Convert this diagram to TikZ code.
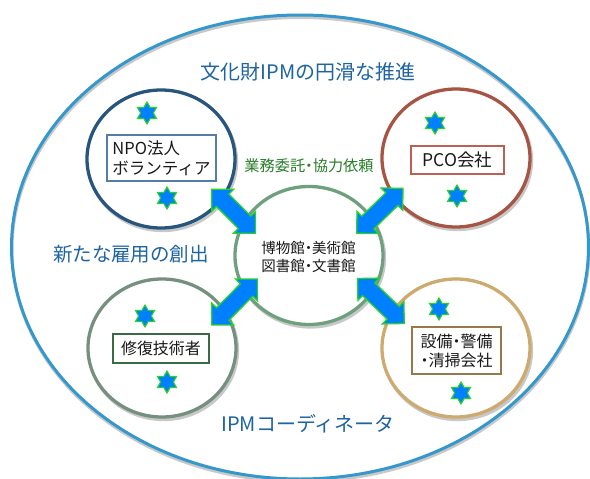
\documentclass[tikz,border=0pt]{standalone}
\usepackage{fontspec}
\setmainfont{Noto Sans CJK JP}
\newfontfamily\palfont{Noto Sans CJK JP}[RawFeature=+palt]
\usetikzlibrary{shapes.geometric,calc}
\definecolor{outerblue}{RGB}{52,152,204}
\definecolor{titleblue}{RGB}{30,100,160}
\definecolor{greentext}{RGB}{40,125,40}
\definecolor{npoc}{RGB}{40,85,125}
\definecolor{pcoc}{RGB}{168,84,68}
\definecolor{hubc}{RGB}{110,160,125}
\definecolor{restc}{RGB}{118,144,128}
\definecolor{facc}{RGB}{205,170,110}
\definecolor{nbox}{RGB}{85,125,170}
\definecolor{pbox}{RGB}{190,95,85}
\definecolor{rbox}{RGB}{60,105,70}
\definecolor{fbox}{RGB}{150,120,75}
\definecolor{starfill}{RGB}{0,128,255}
\definecolor{starline}{RGB}{40,210,40}
\definecolor{shadowgray}{RGB}{200,200,200}
\definecolor{textblack}{RGB}{25,25,25}
\newcommand{\dblarrow}[2]{%
  \draw[blockarrow] (#1)
    -- ($(#1)!15.5pt!(#2)!15.5pt!90:(#2)$)
    -- ($(#1)!15.5pt!(#2)!8.8pt!90:(#2)$)
    -- ($(#2)!15.5pt!(#1)!8.8pt!-90:(#1)$)
    -- ($(#2)!15.5pt!(#1)!15.5pt!-90:(#1)$)
    -- (#2)
    -- ($(#2)!15.5pt!(#1)!15.5pt!90:(#1)$)
    -- ($(#2)!15.5pt!(#1)!8.8pt!90:(#1)$)
    -- ($(#1)!15.5pt!(#2)!8.8pt!-90:(#2)$)
    -- ($(#1)!15.5pt!(#2)!15.5pt!-90:(#2)$)
    -- cycle;}
\begin{document}
\begin{tikzpicture}[x=1pt,y=-1pt,
  ring/.style={ellipse, draw=#1, line width=3.3pt, fill=white,
    minimum width=148pt, minimum height=138pt, inner sep=0pt},
  ringshadow/.style={draw=shadowgray, line width=3.3pt},
  labelbox/.style={draw=#1, line width=1.1pt, fill=white, inner sep=0pt,
    text=textblack},
  hexstar/.style={star, star points=6, star point ratio=1.732,
    minimum size=22pt, inner sep=0pt, fill=starfill, draw=starline,
    line width=1.1pt},
  blockarrow/.style={fill=starfill, draw=starline, line width=1.3pt,
    line join=miter},
  bigtext/.style={text=titleblue, inner sep=0pt,
    font=\fontsize{20}{24}\selectfont}
]
\useasboundingbox (0,0) rectangle (590,479);
\fill[white] (0,0) rectangle (590,479);
% outer frame
\draw[draw=shadowgray, line width=3pt] (300.5,249.5) ellipse [x radius=288.5, y radius=232];
\draw[draw=outerblue, line width=3pt] (300,247) ellipse [x radius=288.5, y radius=232];
% shadows of rings
\foreach \p in {(162.5,161.5),(457.5,160.5),(310.5,258),(163.5,350.5),(457.5,350.5)}
  \draw[ringshadow] \p ellipse [x radius=74, y radius=69];
% rings
\node[ring=npoc] (npo) at (161,159) {};
\node[ring=pcoc] (pco) at (456,158) {};
\node[ring=hubc] (hub) at (309,255.5) {};
\node[ring=restc] (rest) at (162,348) {};
\node[ring=facc] (fac) at (456,348) {};
% arrow end points
\coordinate (nwA) at (211.7,189.3);
\coordinate (nwB) at (255.5,233.3);
\coordinate (neA) at (356.7,233.3);
\coordinate (neB) at (403,188.3);
\coordinate (swA) at (211.8,325);
\coordinate (swB) at (257.5,279);
\coordinate (seA) at (357.5,278.5);
\coordinate (seB) at (404.3,323.5);
\dblarrow{nwA}{nwB}
\dblarrow{neA}{neB}
\dblarrow{swA}{swB}
\dblarrow{seA}{seB}
% stars
\node[hexstar] (s1) at (147,113) {};
\node[hexstar] (s2) at (167,198) {};
\node[hexstar] (s3) at (435,123) {};
\node[hexstar] (s4) at (457,196) {};
\node[hexstar] (s5) at (145,316) {};
\node[hexstar] (s6) at (167,382) {};
\node[hexstar] (s7) at (439,309) {};
\node[hexstar] (s8) at (461,393) {};
% label boxes
\node[labelbox=nbox, minimum width=109pt, minimum height=46pt, align=left,
  font=\fontsize{16.5}{20}\selectfont] (nbx) at (161.5,158) {NPO法人\\ボランティア};
\node[labelbox=pbox, minimum width=93pt, minimum height=28pt,
  font=\fontsize{17.5}{20}\selectfont] (pbx) at (457.5,160) {PCO会社};
\node[labelbox=rbox, minimum width=96pt, minimum height=29pt,
  font=\fontsize{16}{20}\selectfont] (rbx) at (161,348.5) {修復技術者};
\node[labelbox=fbox, minimum width=89pt, minimum height=47pt, align=center,
  font=\palfont\fontsize{16}{19}\selectfont] (fbx) at (456.5,350.5) {設備・警備\\・清掃会社};
% texts
\node[inner sep=0pt, text=textblack, align=center,
  font=\palfont\fontsize{14.5}{18.5}\selectfont] (hubtext) at (308.5,257) {博物館・美術館\\図書館・文書館};
\node[bigtext] (title) at (308,72) {文化財IPMの円滑な推進};
\node[inner sep=0pt, text=greentext, font=\palfont\fontsize{15.2}{17}\selectfont] (commission) at (309,166) {業務委託・協力依頼};
\node[bigtext, font=\fontsize{19.5}{24}\selectfont] (employ) at (131,254) {新たな雇用の創出};
\node[bigtext] (coord) at (308,424) {IPMコーディネータ};
\end{tikzpicture}
\end{document}
